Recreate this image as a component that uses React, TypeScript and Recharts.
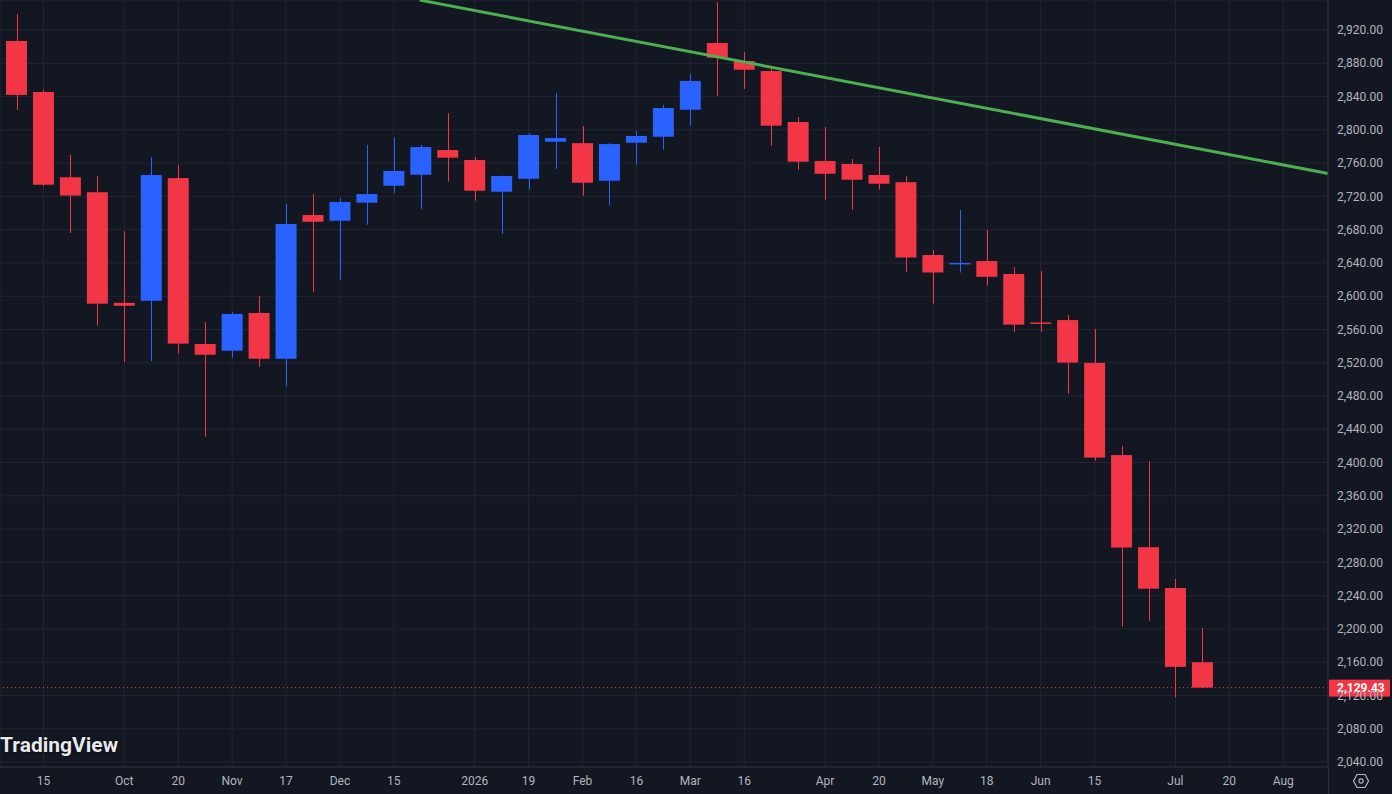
import React from "react";
import { ComposedChart, Bar, XAxis, YAxis, CartesianGrid, ReferenceLine } from "recharts";

// weekly candles, Monday of each week
const weeks = [
  "2025-09-08", "2025-09-15", "2025-09-22", "2025-09-29", "2025-10-06", "2025-10-13",
  "2025-10-20", "2025-10-27", "2025-11-03", "2025-11-10", "2025-11-17", "2025-11-24",
  "2025-12-01", "2025-12-08", "2025-12-15", "2025-12-22", "2025-12-29", "2026-01-05",
  "2026-01-12", "2026-01-19", "2026-01-26", "2026-02-02", "2026-02-09", "2026-02-16",
  "2026-02-23", "2026-03-02", "2026-03-09", "2026-03-16", "2026-03-23", "2026-03-30",
  "2026-04-06", "2026-04-13", "2026-04-20", "2026-04-27", "2026-05-04", "2026-05-11",
  "2026-05-18", "2026-05-25", "2026-06-01", "2026-06-08", "2026-06-15", "2026-06-22",
  "2026-06-29", "2026-07-06", "2026-07-13",
];

const opens = [
  2906.8, 2845.5, 2743.0, 2725.0, 2592.0, 2594.5, 2742.0, 2542.5, 2534.5, 2579.8, 2524.8, 2697.6,
  2690.7, 2712.4, 2732.8, 2746.0, 2775.7, 2763.7, 2725.6, 2741.2, 2785.7, 2784.0, 2738.8, 2784.5,
  2791.7, 2824.2, 2904.4, 2882.7, 2870.7, 2809.4, 2762.5, 2758.9, 2745.7, 2737.1, 2649.5, 2638.5,
  2642.3, 2626.7, 2568.5, 2571.3, 2519.8, 2409.0, 2298.3, 2249.2, 2160.0,
];
const highs = [
  2939.0, 2848.0, 2770.0, 2744.5, 2678.0, 2767.0, 2758.0, 2569.0, 2581.0, 2600.0, 2711.0, 2723.0,
  2718.0, 2782.0, 2791.0, 2782.0, 2820.0, 2767.3, 2745.0, 2796.0, 2844.0, 2804.6, 2784.0, 2798.6,
  2830.0, 2867.0, 2953.7, 2893.5, 2874.3, 2815.4, 2803.4, 2765.0, 2779.3, 2744.3, 2655.5, 2703.6,
  2679.5, 2634.9, 2630.2, 2577.3, 2560.6, 2419.8, 2401.8, 2260.0, 2201.2,
];
const lows = [
  2824.0, 2732.0, 2676.0, 2564.5, 2521.0, 2522.0, 2531.0, 2431.0, 2526.0, 2515.0, 2492.0, 2605.0,
  2620.0, 2686.0, 2724.0, 2705.0, 2737.6, 2714.8, 2675.0, 2728.0, 2753.0, 2720.8, 2709.0, 2758.0,
  2776.0, 2805.0, 2841.0, 2849.0, 2781.0, 2752.0, 2716.0, 2704.0, 2728.0, 2629.3, 2591.0, 2628.5,
  2612.6, 2557.0, 2557.0, 2482.8, 2402.2, 2202.5, 2209.8, 2117.5, 2129.43,
];
const closes = [
  2842.0, 2734.0, 2721.0, 2591.0, 2588.5, 2745.7, 2543.0, 2529.6, 2578.6, 2524.8, 2686.8, 2689.5,
  2713.2, 2722.8, 2750.5, 2779.3, 2766.5, 2726.8, 2744.5, 2793.8, 2790.2, 2736.4, 2782.9, 2792.6,
  2826.2, 2858.7, 2886.7, 2872.3, 2805.0, 2761.7, 2747.2, 2740.0, 2735.2, 2646.5, 2628.5, 2640.0,
  2623.3, 2565.8, 2567.0, 2520.2, 2406.0, 2297.8, 2248.4, 2154.4, 2129.43,
];

// time axis labels, placed on week index
const tickWeeks = [1, 4, 6, 8, 10, 12, 14, 17, 19, 21, 23, 25, 27, 30, 32, 34, 36, 38, 40, 43, 45, 47];
const tickLabels = [
  "15", "Oct", "20", "Nov", "17", "Dec", "15", "2026", "19", "Feb", "16",
  "Mar", "16", "Apr", "20", "May", "18", "Jun", "15", "Jul", "20", "Aug",
];

const priceTicks = [
  2040, 2080, 2120, 2160, 2200, 2240, 2280, 2320, 2360, 2400, 2440, 2480,
  2520, 2560, 2600, 2640, 2680, 2720, 2760, 2800, 2840, 2880, 2920,
];

const lastPrice = 2129.43;
const trendStart = { week: 14.96, price: 2956 };
const trendEnd = { week: 48.66, price: 2747.6 };

const RED = "#F23645";
const BLUE = "#2962FF";
const BG = "#131722";
const GRID = "#222632";
const AXIS = "#2A2E39";
const TEXT = "#B2B5BE";
const FONT = "Roboto, 'Noto Sans', sans-serif";

const data = weeks.map((date, i) => ({
  i,
  date,
  open: opens[i],
  high: highs[i],
  low: lows[i],
  close: closes[i],
  range: [lows[i], highs[i]],
}));

function Candle(props: any) {
  const { x, y, width, height, payload } = props;
  if (!payload) return null;
  const { open, high, low, close } = payload;
  const color = close >= open ? BLUE : RED;
  const yTop = Math.min(y, y + height);
  const h = Math.abs(height);
  const k = h / (high - low);
  const toY = (p: number) => yTop + (high - p) * k;
  const bodyTop = toY(Math.max(open, close));
  const bodyBottom = toY(Math.min(open, close));
  const cx = Math.round(x + width / 2) + 0.5;
  return (
    <g>
      <line x1={cx} x2={cx} y1={yTop} y2={yTop + h} stroke={color} strokeWidth={1} />
      <rect x={x} y={bodyTop} width={width} height={Math.max(bodyBottom - bodyTop, 1.5)} fill={color} />
    </g>
  );
}

function TimeTick(props: any) {
  const { x, payload } = props;
  const idx = tickWeeks.indexOf(payload.value);
  return (
    <text x={x} y={781} dy="0.35em" textAnchor="middle" fill={TEXT} fontSize={12} fontFamily={FONT}>
      {tickLabels[idx]}
    </text>
  );
}

const fmt = (v: number) =>
  v.toLocaleString("en-US", { minimumFractionDigits: 2, maximumFractionDigits: 2 });

function PriceTick(props: any) {
  const { x, y, payload } = props;
  return (
    <text x={x} y={y} dy="0.35em" textAnchor="start" fill={TEXT} fontSize={12} fontFamily={FONT}>
      {fmt(payload.value)}
    </text>
  );
}

function PriceTag(props: any) {
  const vb = props.viewBox || {};
  const left = vb.x + vb.width;
  return (
    <g>
      <rect x={left + 1} y={vb.y - 8} width={61} height={17} fill={RED} />
      <text
        x={left + 9}
        y={vb.y + 0.5}
        dy="0.35em"
        fill="#FFFFFF"
        fontSize={12}
        fontWeight={700}
        fontFamily={FONT}
      >
        {fmt(lastPrice)}
      </text>
    </g>
  );
}

export default function App() {
  return (
    <div style={{ position: "relative", width: 1392, height: 794, background: BG, overflow: "hidden" }}>
      <style>{"body{margin:0;background:#131722}"}</style>
      <ComposedChart width={1392} height={794} data={data} margin={{ top: 0, right: 0, bottom: 0, left: 0 }}>
        <CartesianGrid stroke={GRID} strokeWidth={1} />
        <XAxis
          type="number"
          dataKey="i"
          domain={[-0.612, 48.66]}
          allowDataOverflow
          ticks={tickWeeks}
          interval={0}
          height={27}
          tickLine={false}
          tickSize={0}
          axisLine={{ stroke: AXIS }}
          tick={<TimeTick />}
        />
        <YAxis
          orientation="right"
          type="number"
          domain={[2034, 2956.1]}
          allowDataOverflow
          ticks={priceTicks}
          interval={0}
          width={64}
          tickLine={false}
          tickSize={0}
          tickMargin={9}
          axisLine={{ stroke: AXIS }}
          tick={<PriceTick />}
        />
        <ReferenceLine
          segment={[
            { x: trendStart.week, y: trendStart.price },
            { x: trendEnd.week, y: trendEnd.price },
          ]}
          stroke="#4CAF50"
          strokeWidth={3}
        />
        <Bar dataKey="range" barSize={21} shape={<Candle />} isAnimationActive={false} />
        <ReferenceLine
          y={lastPrice}
          stroke={RED}
          strokeDasharray="1 3"
          strokeWidth={1}
          label={<PriceTag />}
        />
      </ComposedChart>
      <div style={{ position: "absolute", left: 1328, top: 767, width: 1, height: 27, background: AXIS }} />
      <svg style={{ position: "absolute", left: 1352, top: 772 }} width={18} height={18} viewBox="0 0 18 18">
        <polygon points="5,2.5 13,2.5 16.5,9 13,15.5 5,15.5 1.5,9" fill="none" stroke={TEXT} strokeWidth={1.2} />
        <circle cx={9} cy={9} r={2.2} fill="none" stroke={TEXT} strokeWidth={1.2} />
      </svg>
      <div
        style={{
          position: "absolute",
          left: 0,
          top: 733,
          fontFamily: FONT,
          fontSize: 21,
          fontWeight: 700,
          color: "#E8EAF0",
          lineHeight: "24px",
          textShadow: "0 0 2px #000, 0 0 1px #000",
        }}
      >
        TradingView
      </div>
    </div>
  );
}
